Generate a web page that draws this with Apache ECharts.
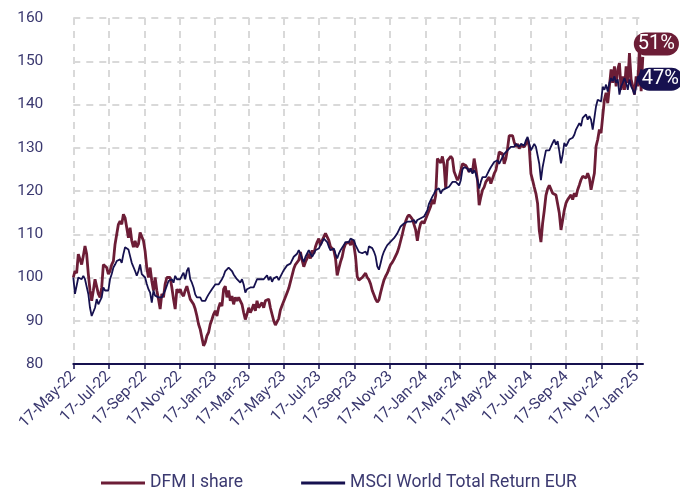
<!DOCTYPE html>
<html>
<head>
<meta charset="utf-8">
<script src="https://cdn.jsdelivr.net/npm/echarts@6/dist/echarts.min.js"></script>
<style>html,body{margin:0;padding:0;background:#fff}#c{width:680px;height:487px}</style>
</head>
<body>
<div id="c"></div>
<script>
// x tick labels and their day offsets from 17-May-22
const tickLabels = ['17-May-22','17-Jul-22','17-Sep-22','17-Nov-22','17-Jan-23','17-Mar-23','17-May-23','17-Jul-23','17-Sep-23','17-Nov-23','17-Jan-24','17-Mar-24','17-May-24','17-Jul-24','17-Sep-24','17-Nov-24','17-Jan-25'];
const tickDays = [0,61,123,184,245,304,365,426,488,549,610,670,731,792,854,915,976];
const yTicks = [80,90,100,110,120,130,140,150,160];
const seriesNames = ['DFM I share','MSCI World Total Return EUR'];
// sampling interval of the series (days)
const STEP_DAYS = 2.8935;

const dfm = [
100.0,101.5,101.0,105.4,105.8,103.0,105.0,107.3,105.4,100.8,97.0,94.6,97.0,99.6,99.2,96.2,95.4,97.7,103.0,103.4,102.3,100.8,101.5,103.0,103.8,107.7,110.0,112.3,113.0,112.3,114.6,113.8,111.5,109.2,111.5,108.5,107.0,108.5,107.0,107.7,110.4,110.8,108.5,106.1,102.3,100.0,102.3,99.2,97.0,100.0,97.0,95.0,92.7,96.2,95.4,98.5,100.0,100.4,100.0,
97.7,95.0,92.7,97.3,96.5,97.3,96.2,95.7,97.0,98.0,96.5,95.0,95.4,93.8,92.7,91.1,89.2,88.0,86.1,84.2,85.0,86.5,87.3,89.2,90.3,91.5,92.3,91.1,93.0,94.2,93.4,97.3,98.0,95.4,97.0,94.6,95.7,93.8,95.4,94.6,95.4,94.6,93.8,91.9,90.3,91.5,93.0,91.9,92.7,93.8,92.3,94.6,93.0,93.4,94.2,93.0,94.6,
94.5,95.0,93.0,91.5,90.0,89.0,89.3,90.5,92.5,93.5,94.5,95.5,96.5,97.5,99.0,100.5,102.0,103.0,103.0,104.0,105.9,104.0,102.5,103.6,104.4,105.5,104.4,106.3,105.5,107.1,108.2,109.0,107.5,108.6,109.0,110.2,110.5,108.6,107.1,106.7,106.3,104.4,100.5,102.1,103.6,104.8,106.7,107.8,108.2,108.2,107.5,108.6,107.5,104.8,100.2,99.4,99.0,
100.0,100.5,101.0,100.0,99.5,98.5,97.0,96.0,95.0,94.3,94.8,96.5,98.0,99.4,100.3,101.0,102.0,103.0,103.5,104.2,105.0,105.8,107.0,108.5,110.0,111.7,113.0,114.0,114.5,114.0,113.5,113.2,111.0,108.5,111.0,112.5,113.0,112.5,113.5,114.5,115.5,116.5,118.0,117.0,119.0,127.5,127.5,126.5,128.0,126.0,120.5,127.0,127.5,128.0,127.5,124.5,124.2,
122.5,123.2,122.8,126.3,126.7,125.9,125.2,124.4,125.2,124.4,127.5,125.2,122.5,116.7,118.6,120.2,120.9,122.1,121.7,123.2,121.7,121.3,124.0,124.8,126.7,129.0,129.4,128.6,126.3,127.5,129.8,132.8,132.5,132.8,131.3,130.2,130.9,129.8,130.5,130.9,130.2,130.9,132.1,130.2,124.0,122.5,120.9,119.4,117.1,110.9,108.2,112.5,115.5,119.0,120.5,121.3,120.9,
119.5,119.9,119.1,118.7,114.9,111.0,113.3,115.6,117.2,118.0,118.3,119.1,118.0,119.5,118.7,120.3,121.4,122.6,123.4,123.7,123.0,124.1,123.0,120.3,120.3,124.1,130.3,131.9,134.2,133.4,137.3,141.1,142.7,140.3,144.2,148.1,145.0,148.8,144.2,148.1,149.6,143.4,146.5,143.4,148.8,145.0,151.9,145.8,144.2,142.3,146.5,144.2,153.5,143.1,151.0
];
const msci = [
100.0,96.2,95.8,100.0,100.4,99.6,100.4,99.6,99.2,96.2,93.0,91.1,91.1,93.0,95.0,93.8,94.6,95.4,97.7,97.0,97.3,97.0,99.6,100.8,102.3,103.0,103.8,103.8,104.2,103.4,105.4,107.0,107.3,106.5,106.1,103.4,103.8,101.5,100.4,101.5,103.0,100.8,101.2,100.0,98.5,97.3,96.5,94.2,97.0,95.8,96.2,95.4,95.0,95.4,96.2,97.0,98.1,99.2,99.6,
99.6,98.8,100.4,99.6,100.0,99.6,100.4,101.1,99.6,101.5,102.3,99.6,98.8,97.7,96.1,95.4,95.0,95.4,94.6,95.0,94.6,95.4,96.1,96.5,97.3,97.7,98.4,98.1,98.4,98.8,99.6,100.4,101.5,101.1,102.3,101.9,101.5,100.7,101.1,99.6,100.0,98.8,99.6,98.4,96.5,97.3,96.9,97.7,97.3,97.7,98.1,99.6,100.0,99.6,100.0,99.6,100.0,
100.5,99.4,100.2,99.0,99.8,99.4,100.2,99.4,100.2,100.5,101.7,102.1,102.8,102.5,103.2,103.6,104.8,104.4,105.5,106.3,105.5,104.4,103.6,104.8,105.2,106.3,105.9,104.8,105.5,106.3,105.9,106.7,107.5,108.2,109.0,108.6,108.2,107.1,106.3,105.9,106.7,105.5,104.4,105.5,106.3,106.7,107.5,108.2,108.6,108.2,109.0,109.4,108.6,107.5,107.1,105.9,106.3,
105.6,105.2,106.0,105.2,107.2,107.5,106.8,106.0,104.9,102.6,101.8,103.3,104.9,106.0,106.8,107.5,107.9,108.3,108.3,109.1,108.7,110.2,111.0,111.8,111.4,112.5,112.1,112.9,113.3,112.9,112.5,113.3,112.5,113.3,113.3,113.7,113.7,114.1,114.8,115.6,117.1,117.9,118.7,119.4,120.2,119.8,120.6,119.4,120.2,119.8,120.6,120.2,121.0,121.3,122.1,121.7,122.1,
122.1,121.3,122.5,125.0,125.5,125.9,125.2,124.4,125.2,124.0,124.8,124.0,122.5,120.6,122.1,123.2,123.6,123.2,124.0,124.8,125.5,125.9,126.7,126.3,127.1,126.3,127.1,127.5,128.6,129.0,129.4,129.8,130.2,130.5,130.2,130.9,130.5,130.2,130.9,131.3,130.5,131.7,132.5,132.8,129.4,129.8,130.9,130.2,129.8,126.3,122.5,125.5,127.5,129.4,129.8,129.4,129.8,
131.1,131.9,130.7,131.5,129.2,126.4,128.4,131.1,130.3,131.1,131.9,132.3,132.3,133.0,134.2,134.6,135.7,135.0,136.9,137.3,137.7,136.5,137.3,136.5,134.2,133.8,139.6,141.1,141.5,140.7,144.1,143.4,144.6,143.0,145.0,146.1,145.4,146.5,145.0,145.8,142.3,144.2,145.0,146.1,145.0,143.4,145.8,144.2,143.4,142.3,144.2,146.5,145.8,148.1,147.0
];

const MAROON = '#6C1D36';
const NAVY = '#16114F';
const TEXT = '#3B3970';
const FONT = 'Roboto';

function toPairs(arr){ return arr.map((v,i)=>[i*STEP_DAYS, v]); }
const lastDay = (dfm.length-1)*STEP_DAYS;

const chart = echarts.init(document.getElementById('c'), null, {renderer:'canvas'});
function endLbl(color, offset){
  return {
    show: true,
    formatter: p => Math.round(p.value[1]-100) + '%',
    color: '#fff',
    backgroundColor: color,
    borderRadius: 12,
    padding: [2, 4, 1, 4],
    fontFamily: FONT,
    fontSize: 20,
    distance: 5,
    offset: offset
  };
}
chart.setOption({
  animation: false,
  grid: {left: 73.3, right: 37, top: 18, bottom: 123, containLabel: false},
  legend: {
    top: 469,
    left: 96,
    itemWidth: 44,
    itemHeight: 3,
    itemGap: 58,
    icon: 'rect',
    textStyle: {color: TEXT, fontFamily: FONT, fontSize: 17.5},
    data: seriesNames
  },
  xAxis: {
    type: 'value',
    min: 0,
    max: Math.ceil(lastDay),
    axisLine: {show: true, lineStyle: {color: NAVY, width: 2}},
    axisTick: {show: true, customValues: tickDays, length: 5, lineStyle: {color: NAVY, width: 1.5}},
    axisLabel: {
      customValues: tickDays,
      rotate: 45,
      margin: 10,
      color: TEXT,
      fontFamily: FONT,
      fontSize: 15.5,
      formatter: v => tickLabels[tickDays.indexOf(Math.round(v))] || ''
    },
    splitLine: {show: true, lineStyle: {color: '#D9D9D9', width: 2, type: [7, 6]}}
  },
  yAxis: {
    type: 'value',
    min: yTicks[0],
    max: yTicks[yTicks.length-1],
    interval: 10,
    axisLine: {show: false},
    axisTick: {show: false},
    axisLabel: {color: TEXT, fontFamily: FONT, fontSize: 15.5, margin: 30},
    splitLine: {show: true, lineStyle: {color: '#D9D9D9', width: 2, type: [7, 6]}}
  },
  series: [
    {
      name: seriesNames[0], type: 'line', data: toPairs(dfm), showSymbol: false, symbol: 'none',
      lineStyle: {color: MAROON, width: 2.8}, itemStyle: {color: MAROON},
      endLabel: endLbl(MAROON, [-14, -13]), z: 2
    },
    {
      name: seriesNames[1], type: 'line', data: toPairs(msci), showSymbol: false, symbol: 'none',
      lineStyle: {color: NAVY, width: 1.8}, itemStyle: {color: NAVY},
      endLabel: endLbl(NAVY, [-10, 5]), z: 3
    }
  ]
});
</script>
</body>
</html>
